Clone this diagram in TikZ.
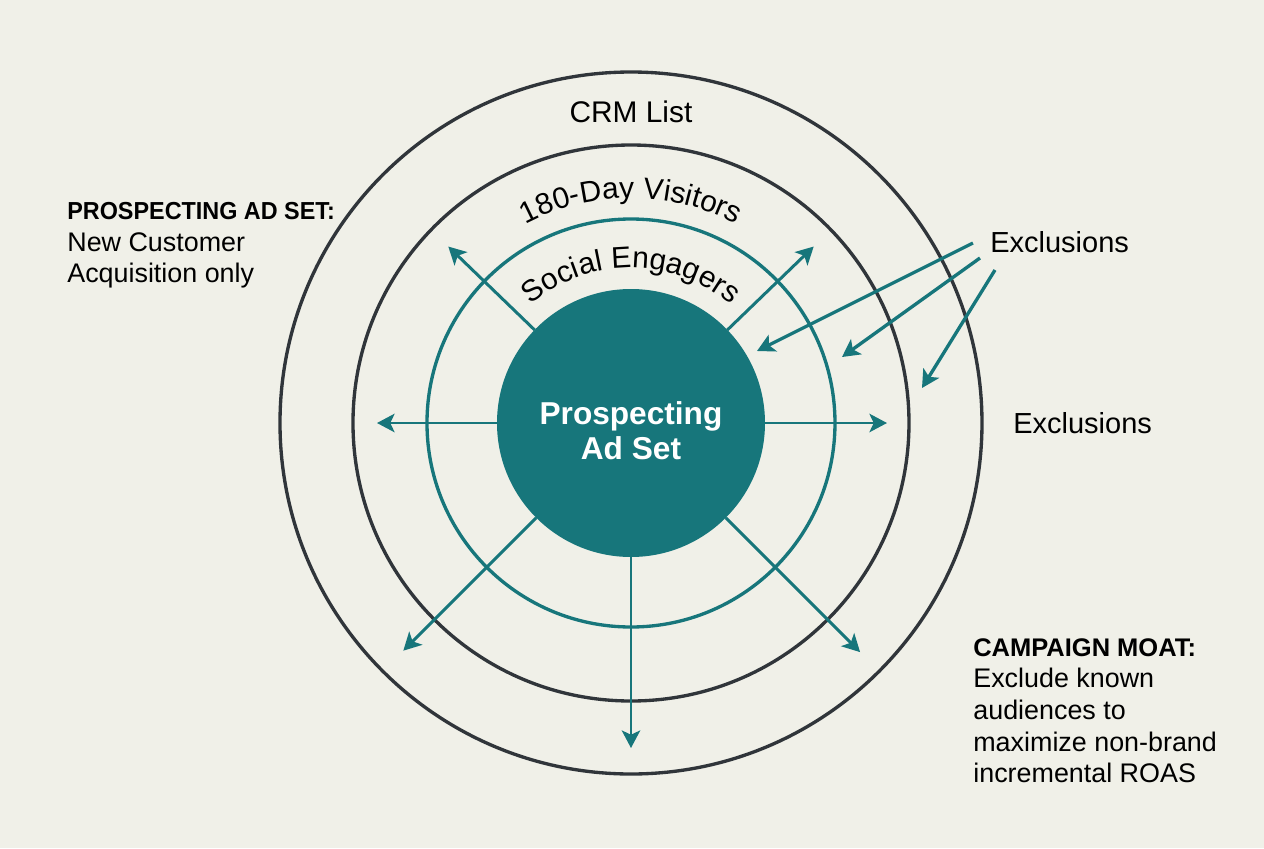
\documentclass[tikz,border=0pt]{standalone}
\usepackage{fontspec}
\setmainfont{Liberation Sans}
\usetikzlibrary{arrows.meta,decorations.text}
\definecolor{adteal}{HTML}{17767B}
\definecolor{ringgray}{HTML}{30353A}
\definecolor{bgcream}{HTML}{F0F0E8}

\begin{document}
\begin{tikzpicture}
        % Style Definitions
        \tikzstyle{core} = [circle, fill=adteal, minimum size=5.36cm, inner sep=0pt, outer sep=0pt]
        \tikzstyle{coretitle} = [align=center, text=white, inner sep=0pt, font=\bfseries\fontsize{18}{20}\selectfont]
        \tikzstyle{ring} = [circle, draw=ringgray, line width=1.9pt, inner sep=0pt]
        \tikzstyle{engaged} = [circle, draw=adteal, line width=1.9pt, inner sep=0pt]
        \tikzstyle{ringlabel} = [inner sep=0pt, font=\fontsize{17}{20}\selectfont]
        \tikzstyle{note} = [align=left, anchor=north west, inner sep=0pt, font=\fontsize{15.3}{18}\selectfont]
        \tikzstyle{spread} = [-{Stealth[length=10pt,width=10.5pt,inset=2.5pt]}, draw=adteal, line width=1.7pt]
        \tikzstyle{exclude} = [-{Stealth[length=10pt,width=10.5pt,inset=2.5pt]}, draw=adteal, line width=1.9pt]

        % Canvas
        \fill[bgcream] (-12.62,-8.50) rectangle (12.66,8.46);

        % Rings
        \node (crm) [ring, minimum size=14.04cm] at (0,0) {};
        \node (visitors) [ring, minimum size=11.12cm] at (0,0) {};
        \node (engagers) [engaged, minimum size=8.16cm] at (0,0) {};

        % Nodes
        \node (core) [core] at (0,0) {};
        \node (coretext) [coretitle] at ([yshift=-0.16cm]core.center) {Prospecting\\Ad Set};
        \node (crmlabel) [ringlabel] at (0,6.22) {CRM List};
        \path[decorate, decoration={text along path, text align=center,
            text={|\fontsize{17}{20}\selectfont|180-Day Visitors}}]
            (155:4.5) arc[start angle=155, end angle=25, radius=4.5];
        \path[decorate, decoration={text along path, text align=center,
            text={|\fontsize{17}{20}\selectfont|Social Engagers}}]
            (160:3.1) arc[start angle=160, end angle=20, radius=3.1];
        \node (exclTop) [ringlabel, anchor=west, font=\fontsize{16.5}{20}\selectfont] at (7.18,3.62) {Exclusions};
        \node (exclSide) [ringlabel, anchor=west, font=\fontsize{16.5}{20}\selectfont] at (7.64,0) {Exclusions};
        \node (adset) [note] at (-11.28,4.42) {{\fontsize{14}{17}\selectfont\bfseries\scalebox{0.95}[1]{PROSPECTING AD SET:}}\\New Customer\\Acquisition only};
        \node (moat) [note] at (6.84,-4.30) {{\fontsize{14.5}{18}\selectfont\bfseries CAMPAIGN MOAT:}\\Exclude known\\audiences to\\maximize non-brand\\incremental ROAS};

        % Arrow ends
        \coordinate (tipW) at (180:5.08);
        \coordinate (tipE) at (0:5.12);
        \coordinate (tipNW) at (136:5.08);
        \coordinate (tipNE) at (44:5.08);
        \coordinate (tipSW) at (225:6.44);
        \coordinate (tipSE) at (315:6.48);
        \coordinate (tipS) at (270:6.50);
        \coordinate (fromA) at (6.84,3.60);
        \coordinate (fromB) at (6.98,3.30);
        \coordinate (fromC) at (7.28,3.06);
        \coordinate (intoEngagers) at (2.52,1.44);
        \coordinate (intoVisitors) at (4.22,1.32);
        \coordinate (intoCrm) at (5.82,0.70);

        % Arrows
        \draw[spread] (core.180) -- (tipW);
        \draw[spread] (core.0) -- (tipE);
        \draw[spread] (core.136) -- (tipNW);
        \draw[spread] (core.44) -- (tipNE);
        \draw[spread] (core.225) -- (tipSW);
        \draw[spread] (core.315) -- (tipSE);
        \draw[spread] (core.270) -- (tipS);
        \draw[exclude] (fromA) -- (intoEngagers);
        \draw[exclude] (fromB) -- (intoVisitors);
        \draw[exclude] (fromC) -- (intoCrm);

    \end{tikzpicture}
\end{document}
